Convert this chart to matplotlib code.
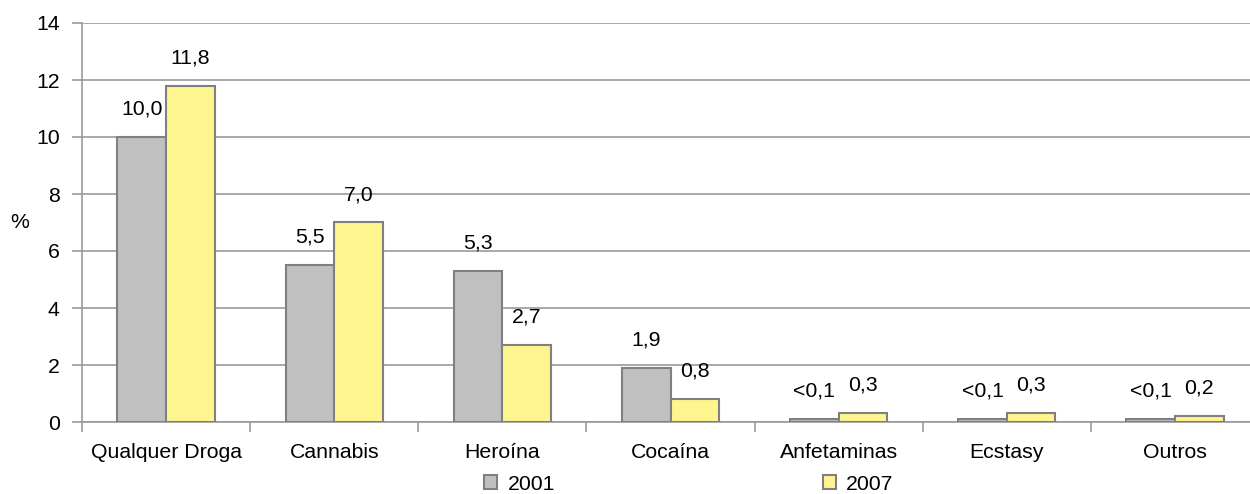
import matplotlib
matplotlib.use("Agg")
import matplotlib.pyplot as plt
import numpy as np

categories = ["Qualquer Droga", "Cannabis", "Heroína", "Cocaína", "Anfetaminas", "Ecstasy", "Outros"]
values_2001 = [10.0, 5.5, 5.3, 1.9, 0.1, 0.1, 0.1]
values_2007 = [11.8, 7.0, 2.7, 0.8, 0.3, 0.3, 0.2]
labels_2001 = ["10,0", "5,5", "5,3", "1,9", "<0,1", "<0,1", "<0,1"]
labels_2007 = ["11,8", "7,0", "2,7", "0,8", "0,3", "0,3", "0,2"]
series_names = ["2001", "2007"]
yticks = [0, 2, 4, 6, 8, 10, 12, 14]

plt.rcParams['font.family'] = ['Liberation Sans', 'DejaVu Sans']

W, H = 1250, 494
fig = plt.figure(figsize=(W / 100, H / 100), dpi=100)
left, right, top, bottom = 82, 1259, 23, 422
ax = fig.add_axes([left / W, (H - bottom) / H, (right - left) / W, (bottom - top) / H])

n = len(categories)
x = np.arange(n)
bw = 0.289
grid_c = "#999999"
edge_c = "#808080"

b1 = ax.bar(x - bw / 2, values_2001, bw, color="#C0C0C0", edgecolor=edge_c, linewidth=1.5,
            label=series_names[0], zorder=3)
b2 = ax.bar(x + bw / 2, values_2007, bw, color="#FFF58F", edgecolor=edge_c, linewidth=1.5,
            label=series_names[1], zorder=3)

fs = 15.3
for bars, labs in ((b1, labels_2001), (b2, labels_2007)):
    for rect, lab in zip(bars, labs):
        ax.annotate(lab, (rect.get_x() + rect.get_width() / 2, rect.get_height()),
                    xytext=(0, 28), textcoords="offset pixels", ha="center", va="center",
                    fontsize=fs, color="black")

ax.set_xlim(-0.5, n - 0.5)
ax.set_ylim(0, 14)
ax.set_yticks(yticks)
ax.set_yticklabels([str(v) for v in yticks], fontsize=fs)
ax.yaxis.grid(True, color=grid_c, linewidth=1.2, zorder=0)
ax.set_axisbelow(True)

ax.set_xticks(np.arange(n + 1) - 0.5)
ax.set_xticklabels([])
ax.set_xticks(x, minor=True)
ax.set_xticklabels(categories, minor=True, fontsize=fs)
ax.tick_params(axis="x", which="minor", length=0, pad=15)
ax.tick_params(axis="x", which="major", length=7, color=grid_c, width=1.2)
ax.tick_params(axis="y", length=7, color=grid_c, width=1.2, pad=9)

for s in ("top", "right"):
    ax.spines[s].set_visible(False)
for s in ("left", "bottom"):
    ax.spines[s].set_color(grid_c)
    ax.spines[s].set_linewidth(1.2)

fig.text(20 / W, 1 - 222 / H, "%", fontsize=fs, ha="center", va="center")

fig.legend(handles=[b1, b2], labels=series_names, loc="center", ncol=2,
           bbox_to_anchor=(689 / W, 1 - 484 / H), frameon=False, fontsize=fs,
           handlelength=0.6, handleheight=0.6, handletextpad=0.5, columnspacing=12.6,
           borderpad=0)

fig.savefig("out.png", dpi=100)
